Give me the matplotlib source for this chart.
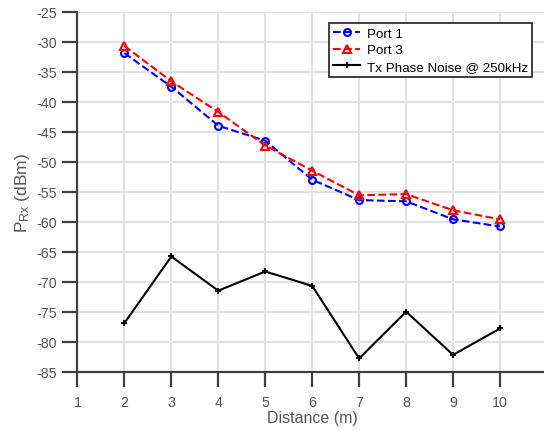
import matplotlib
matplotlib.use("Agg")
import matplotlib.pyplot as plt

plt.rcParams['font.family'] = ['Liberation Sans', 'DejaVu Sans']
plt.rcParams['mathtext.default'] = 'regular'
plt.rcParams['axes.unicode_minus'] = False

distance = [2, 3, 4, 5, 6, 7, 8, 9, 10]
port1 = [-31.9, -37.5, -44.0, -46.5, -53.0, -56.4, -56.6, -59.6, -60.8]
port3 = [-30.7, -36.6, -41.7, -47.3, -51.5, -55.6, -55.4, -58.1, -59.6]
tx_noise = [-76.9, -65.8, -71.5, -68.3, -70.7, -82.8, -75.0, -82.2, -77.8]

xticks = [1, 2, 3, 4, 5, 6, 7, 8, 9, 10]
yticks = list(range(-85, -24, 5))

fig = plt.figure(figsize=(5.44, 4.31), dpi=100)
ax = fig.add_axes([0.1423, 0.1353, 0.8632, 0.8352])

ax.plot(distance, port1, '--', color='#0000ff', lw=1.5, marker='o',
        ms=5, mfc='none', mew=1.5, label='Port 1')
ax.plot(distance, port3, '--', color='#ff0000', lw=1.5, marker='^',
        ms=6, mfc='none', mew=1.5, label='Port 3')
ax.plot(distance, tx_noise, '-', color='black', lw=1.5, marker='+',
        ms=5, mew=1.5, label='Tx Phase Noise @ 250kHz')

ax.set_xlim(1, 11)
ax.set_ylim(-85, -25)
ax.set_xticks(xticks)
ax.set_yticks(yticks)
ax.grid(True, color='#e2e2e2', lw=1.5)
ax.set_axisbelow(True)

for side in ['top', 'right']:
    ax.spines[side].set_visible(False)
for side in ['left', 'bottom']:
    ax.spines[side].set_color('#404040')
    ax.spines[side].set_linewidth(1.6)
ax.tick_params(direction='out', length=10.5, width=1.6, color='#404040',
               labelcolor='#555555', labelsize=10.3)
ax.tick_params(axis='x', pad=6)
ax.tick_params(axis='y', pad=4)

ax.set_xlabel('Distance (m)', fontsize=11.5, color='#555555', labelpad=1)
ax.set_ylabel('P$_{Rx}$ (dBm)', fontsize=12.5, color='#555555', labelpad=3)

leg = ax.legend(loc='upper left', bbox_to_anchor=(0.5365, 0.968),
                fontsize=9.6, frameon=True, fancybox=False, borderpad=0.3,
                labelspacing=0.32, handlelength=2.0, handletextpad=0.5,
                borderaxespad=0)
leg.get_frame().set_edgecolor('#303030')
leg.get_frame().set_linewidth(1.3)
leg.get_frame().set_alpha(1)

fig.savefig('out.png', dpi=100)
